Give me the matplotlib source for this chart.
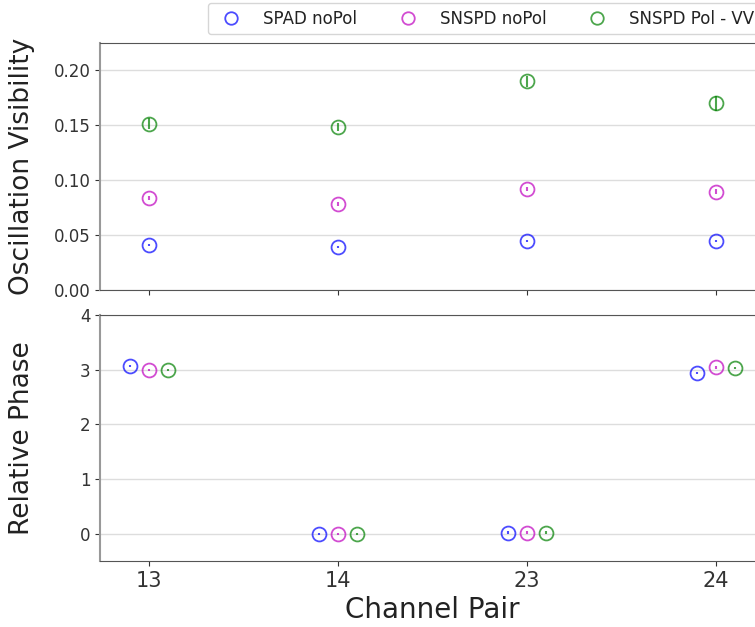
import numpy as np
import matplotlib
matplotlib.use("Agg")
import matplotlib.pyplot as plt

pairs = ["13", "14", "23", "24"]
labels = ["SPAD noPol", "SNSPD noPol", "SNSPD Pol - VV"]
colors = ["b", "m", "g"]

vis_spad = [0.041, 0.039, 0.0445, 0.0445]
vis_spad_err = [0.001, 0.001, 0.001, 0.001]
vis_snspd = [0.084, 0.0785, 0.092, 0.0895]
vis_snspd_err = [0.002, 0.002, 0.002, 0.0025]
vis_pol = [0.1515, 0.1485, 0.190, 0.170]
vis_pol_err = [0.005, 0.004, 0.005, 0.007]

ph_spad = [3.06, 0.0, 0.02, 2.94]
ph_snspd = [2.99, 0.0, 0.02, 3.04]
ph_pol = [2.99, 0.0, 0.02, 3.03]
ph_err = [0.02, 0.02, 0.02, 0.02]

vis = [(vis_spad, vis_spad_err), (vis_snspd, vis_snspd_err), (vis_pol, vis_pol_err)]
ph = [ph_spad, ph_snspd, ph_pol]
offsets = [-0.1, 0.0, 0.1]

plt.rcParams['text.color'] = '#222222'
plt.rcParams['axes.labelcolor'] = '#222222'
plt.rcParams['xtick.color'] = '#333333'
plt.rcParams['ytick.color'] = '#333333'

fig = plt.figure(figsize=(7.55, 6.27), dpi=100)
ax1 = fig.add_axes([0.1325, 0.5375, 0.881, 0.394])
ax2 = fig.add_axes([0.1325, 0.1053, 0.881, 0.3923], sharex=ax1)

x = np.arange(len(pairs))
for (v, e), c, lab in zip(vis, colors, labels):
    ax1.errorbar(x, v, yerr=e, fmt='o', mfc='none', mec=c, ecolor=c,
                 ms=10, mew=1.3, elinewidth=1.5, alpha=0.7, label=lab)
for p, c, off in zip(ph, colors, offsets):
    ax2.errorbar(x + off, p, yerr=ph_err, fmt='o', mfc='none', mec=c, ecolor=c,
                 ms=10, mew=1.3, elinewidth=1.5, alpha=0.7)

for ax in (ax1, ax2):
    ax.grid(axis='y', color='#dddddd', lw=1)
    ax.set_axisbelow(True)
    for s in ax.spines.values():
        s.set_color('#555555')
    ax.spines['left'].set_color('#999999')
    ax.spines['left'].set_linewidth(1.5)

ax1.set_xlim(-0.26, 3.26)
ax1.set_ylim(0, 0.225)
ax1.set_yticks([0, 0.05, 0.10, 0.15, 0.20])
ax1.set_yticklabels(["0.00", "0.05", "0.10", "0.15", "0.20"])
ax1.tick_params(axis='y', labelsize=12)
ax1.tick_params(axis='x', labelbottom=False)
ax1.set_ylabel("Oscillation Visibility", fontsize=19)

ax2.set_ylim(-0.5, 4)
ax2.set_yticks([0, 1, 2, 3, 4])
ax2.tick_params(axis='y', labelsize=12)
ax2.set_xticks(x)
ax2.set_xticklabels(pairs, fontsize=15)
ax2.set_ylabel("Relative Phase", fontsize=19)
ax2.set_xlabel("Channel Pair", fontsize=20)

ax1.yaxis.set_label_coords(-0.098, 0.5)
ax2.yaxis.set_label_coords(-0.098, 0.5)

leg_handles = [plt.Line2D([], [], ls='none', marker='o', mfc='none', mec=c,
                          ms=9, mew=1.3, alpha=0.7) for c in colors]
fig.legend(leg_handles, labels, loc='upper left', bbox_to_anchor=(0.2755, 0.995),
           borderaxespad=0, ncol=3, fontsize=12, columnspacing=2.06,
           handletextpad=0.9, borderpad=0.4, frameon=True, edgecolor='#cccccc')

fig.savefig("out.png", dpi=100)
